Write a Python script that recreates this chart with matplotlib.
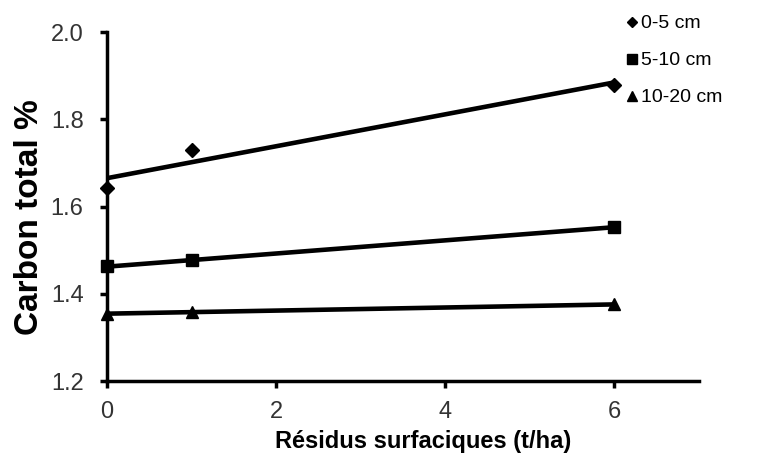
import numpy as np
import matplotlib; matplotlib.use("Agg")
import matplotlib.pyplot as plt

plt.rcParams['font.family'] = ['Liberation Sans', 'DejaVu Sans']

residus = [0, 1, 6]
c_0_5 = [1.642, 1.730, 1.880]
c_5_10 = [1.463, 1.477, 1.553]
c_10_20 = [1.355, 1.358, 1.376]
labels = ["0-5 cm", "5-10 cm", "10-20 cm"]
markers = ["D", "s", "^"]
msizes = [7, 9, 9]

fig = plt.figure(figsize=(7.71, 4.66), dpi=100)
ax = fig.add_axes([0.139, 0.182, 0.767, 0.749])

xs = np.array([0, 6])
for ys, lab, m, ms in zip([c_0_5, c_5_10, c_10_20], labels, markers, msizes):
    ax.plot(residus, ys, linestyle="none", marker=m, ms=ms, color="black", label=lab,
            clip_on=False, zorder=4)
    k, b = np.polyfit(residus, ys, 1)
    ax.plot(xs, k*xs + b, color="black", lw=3.3, solid_capstyle="butt", zorder=3)

ax.set_xlim(0, 7)
ax.set_ylim(1.2, 2.0)
ax.set_xticks([0, 2, 4, 6])
ax.set_yticks([1.2, 1.4, 1.6, 1.8, 2.0])
ax.yaxis.set_major_formatter(matplotlib.ticker.FormatStrFormatter("%.1f"))
for s in ["top", "right"]:
    ax.spines[s].set_visible(False)
for s in ["left", "bottom"]:
    ax.spines[s].set_linewidth(2.5)
ax.tick_params(direction="out", width=2.5, length=5, labelsize=17, colors="black",
               labelcolor="#333333")
ax.tick_params(axis="x", pad=9)
ax.tick_params(axis="y", pad=12)

ax.set_ylabel("Carbon total %", fontsize=24, fontweight="bold")
ax.yaxis.set_label_coords(-0.105, 0.47)
ax.set_xlabel("Résidus surfaciques (t/ha)", fontsize=17, fontweight="bold")
ax.xaxis.set_label_coords(0.535, -0.14)

fig.legend(loc="upper left", bbox_to_anchor=(0.802, 0.985), frameon=False, fontsize=14,
           handlelength=0.6, handletextpad=0.15, labelspacing=1.0, markerscale=0.8,
           borderaxespad=0)

fig.savefig("out.png", dpi=100)
